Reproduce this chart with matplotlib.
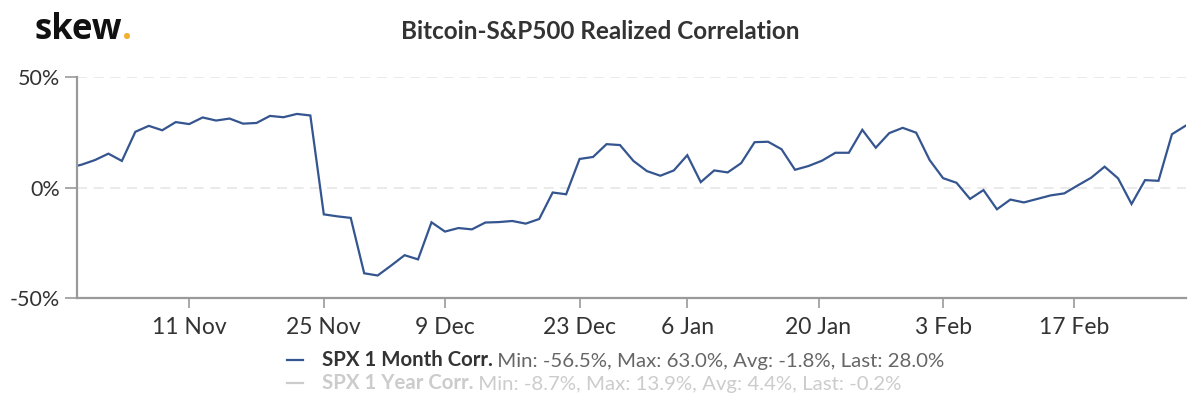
import numpy as np
import pandas as pd
import matplotlib
matplotlib.use("Agg")
import matplotlib.pyplot as plt
from matplotlib.lines import Line2D

# trading days (NYSE holidays removed)
holidays = ["2019-11-28", "2019-12-25", "2020-01-01", "2020-01-20", "2020-02-17"]
dates = pd.bdate_range("2019-10-29", "2020-02-28")
dates = dates[~dates.isin(pd.to_datetime(holidays))]

# SPX 1 month realized correlation, %
corr_1m = [
    8.9, 10.4, 12.5, 15.4, 12.1, 25.3, 28.0, 26.0, 29.7,
    28.8, 31.8, 30.4, 31.3, 29.0,
    29.3, 32.5, 31.9, 33.4, 32.7,
    -12.1, -13.0, -13.7, -38.8,
    -39.8, -35.3, -30.6, -32.5, -15.7,
    -19.9, -18.3, -18.9, -15.8, -15.6,
    -15.1, -16.3, -14.2, -2.2, -3.0,
    13.0, 13.9, 19.7, 19.3,
    12.1, 7.5, 5.4, 7.8,
    14.7, 2.5, 7.8, 6.9, 11.1,
    20.6, 20.8, 17.4, 8.1, 9.8,
    12.2, 15.8, 15.8, 26.2,
    18.1, 24.7, 27.1, 24.9, 12.5,
    4.3, 2.2, -5.1, -1.1, -9.8,
    -5.4, -6.7, -5.1, -3.5, -2.6,
    1.0, 4.5, 9.5, 4.2,
    -7.4, 3.4, 3.1, 24.2, 28.0,
]

tick_dates = ["2019-11-11", "2019-11-25", "2019-12-09", "2019-12-23",
              "2020-01-06", "2020-01-20", "2020-02-03", "2020-02-17"]
tick_labels = ["11 Nov", "25 Nov", "9 Dec", "23 Dec", "6 Jan", "20 Jan", "3 Feb", "17 Feb"]

legend_1m = ("SPX 1 Month Corr.", "Min: -56.5%, Max: 63.0%, Avg: -1.8%, Last: 28.0%")
legend_1y = ("SPX 1 Year Corr.", "Min: -8.7%, Max: 13.9%, Avg: 4.4%, Last: -0.2%")

plt.rcParams["font.family"] = ["Lato", "DejaVu Sans"]

blue = "#34558f"
axis_grey = "#9a9a9a"
text_dark = "#333333"

fig = plt.figure(figsize=(12, 3.99), dpi=100)
ax = fig.add_axes([0.0642, 0.2531, 0.9242, 0.5532])

# ordinal axis: one slot per trading day
idx = np.arange(len(dates))
ax.plot(idx, corr_1m, color=blue, lw=1.6, solid_joinstyle="miter")

day_num = dates.values.astype("datetime64[D]").astype(float)
tick_num = pd.to_datetime(tick_dates).values.astype("datetime64[D]").astype(float)
tick_pos = np.interp(tick_num, day_num, idx)

ax.set_xlim(0.67, len(dates) - 0.95)
ax.set_ylim(-50, 50)
ax.set_xticks(tick_pos)
ax.set_xticklabels(tick_labels)
ax.set_yticks([-50, 0, 50])
ax.set_yticklabels(["-50%", "0%", "50%"])

for y in [0, 50]:
    ax.axhline(y, color="#e6e6e6", lw=1.2, ls=(0, (6, 4)), zorder=0)

for side in ["top", "right"]:
    ax.spines[side].set_visible(False)
for side in ["left", "bottom"]:
    ax.spines[side].set_color(axis_grey)
    ax.spines[side].set_linewidth(1.6)

ax.tick_params(axis="x", colors=axis_grey, length=7, width=1.2, pad=7, labelsize=16.5, labelcolor=text_dark)
ax.tick_params(axis="y", colors=axis_grey, length=9, width=1.2, pad=3, labelsize=15.5, labelcolor=text_dark)

# header
fig.text(0.5, 0.922, "Bitcoin-S&P500 Realized Correlation", ha="center", va="center",
         fontsize=17.5, fontweight="bold", color=text_dark)
logo = fig.text(0.029, 0.925, "skew", ha="left", va="center", fontsize=25,
                fontweight="bold", color="#111111", family=["Open Sans", "DejaVu Sans"])
ax.annotate(".", xycoords=logo, xy=(1, 0), va="bottom", ha="left", fontsize=25,
            fontweight="bold", color="#f0b030", family=["Open Sans", "DejaVu Sans"],
            annotation_clip=False)

# legend, drawn by hand
rows = [(legend_1m, blue, text_dark, "#666666", 0.097),
        (legend_1y, "#cccccc", "#cccccc", "#cccccc", 0.039)]
for (name, stats), line_col, name_col, stat_col, y in rows:
    fig.add_artist(Line2D([0.2395, 0.2525], [y, y], color=line_col, lw=1.6,
                          transform=fig.transFigure))
    t = fig.text(0.268, y, name, ha="left", va="center", fontsize=14.7,
                 fontweight="bold", color=name_col)
    ax.annotate(" " + stats, xycoords=t, xy=(1, 0), va="bottom", ha="left",
                fontsize=14.7, color=stat_col, annotation_clip=False)

fig.savefig("out.png", dpi=100)
